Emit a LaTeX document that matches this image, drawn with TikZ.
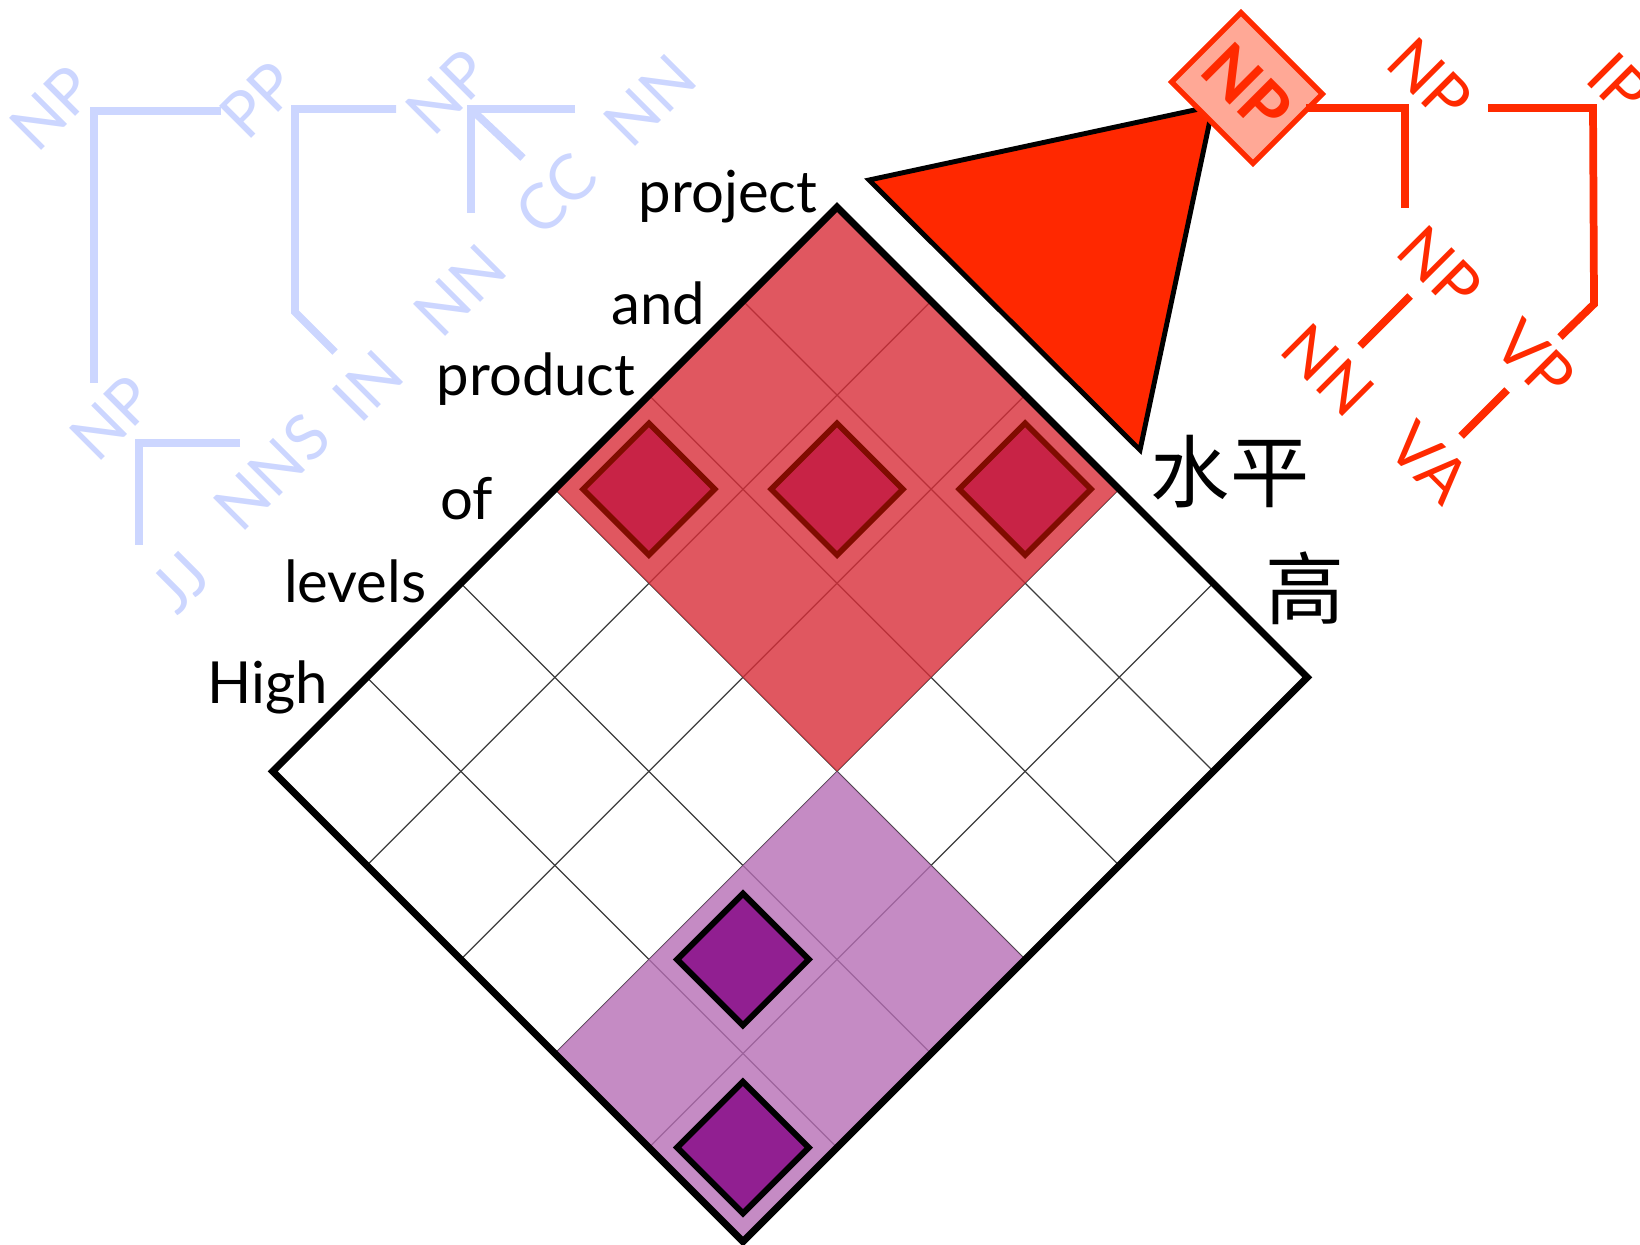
\documentclass[tikz,border=0pt]{standalone}
\usepackage{fontspec}
\setmainfont{Lato}
\newfontfamily\cjk{Noto Sans CJK SC}
\definecolor{treeblue}{RGB}{204,214,255}
\definecolor{treered}{RGB}{255,42,0}
\definecolor{boxfill}{RGB}{255,168,150}
\definecolor{redregion}{RGB}{216,45,56}
\definecolor{purpregion}{RGB}{182,110,181}
\definecolor{reddia}{RGB}{200,35,70}
\definecolor{reddiaedge}{RGB}{128,12,0}
\definecolor{purpdia}{RGB}{145,31,145}
\definecolor{gridgray}{RGB}{60,60,60}
\definecolor{trifill}{RGB}{255,40,0}
\tikzset{
  word/.style={font=\fontsize{16.5}{18}\selectfont, inner sep=0pt, anchor=base east},
  zh/.style={font=\cjk\fontsize{22.5}{26}\selectfont, inner sep=0pt},
  btag/.style={font=\fontsize{18}{20}\selectfont, text=treeblue, rotate=45, inner sep=0pt},
  rtag/.style={font=\fontsize{18}{20}\selectfont, text=treered, rotate=-45, inner sep=0pt},
  bline/.style={draw=treeblue, line width=2.2pt, line join=miter},
  rline/.style={draw=treered, line width=2.2pt, line join=miter},
  gridln/.style={draw=gridgray, line width=0.35pt},
  border/.style={draw=black, line width=2pt, line join=miter},
  reddiamond/.style={fill=reddia, draw=reddiaedge, line width=1.6pt, line join=miter},
  purpdiamond/.style={fill=purpdia, draw=black, line width=1.7pt, line join=miter},
}
\begin{document}
\begin{tikzpicture}[x=0.01cm,y=-0.01cm]
\useasboundingbox (0,0) rectangle (1640,1244);

% ---------- blue tree ----------
\node[btag] (bNPa) at (52,108) {NP};
\node[btag] (bPP) at (258,100) {PP};
\node[btag] (bNPb) at (448,92) {NP};
\node[btag] (bNNa) at (650,100) {NN};
\node[btag] (bCC) at (556,194) {CC};
\node[btag] (bNNb) at (460,290) {NN};
\node[btag] (bIN) at (368,386) {IN};
\node[btag] (bNPc) at (112,418) {NP};
\node[btag] (bNNS) at (272,472) {NNS};
\node[btag] (bJJ) at (180,582) {JJ};

\coordinate (b1a) at (221,111);
\coordinate (b1b) at (94,111);
\coordinate (b1c) at (94,383);
\draw[bline] (b1a) -- (b1b) -- (b1c);
\coordinate (b2a) at (396,109);
\coordinate (b2b) at (295,109);
\coordinate (b2c) at (295,312);
\coordinate (b2d) at (335,352);
\draw[bline] (b2a) -- (b2b) -- (b2c) -- (b2d);
\coordinate (b3a) at (575,109);
\coordinate (b3b) at (471,109);
\coordinate (b3c) at (471,213);
\coordinate (b3d) at (523,158);
\draw[bline] (b3a) -- (b3b) -- (b3c);
\draw[bline] (b3b) -- (b3d);
\coordinate (b4a) at (240,443);
\coordinate (b4b) at (139,443);
\coordinate (b4c) at (139,545);
\draw[bline] (b4a) -- (b4b) -- (b4c);

% ---------- chart grid ----------
\begin{scope}[shift={(837,207)}, x={(0.94cm,-0.94cm)}, y={(-0.94cm,-0.94cm)}]
  \foreach \k in {1,...,4} \draw[gridln] (\k,0) -- (\k,6);
  \foreach \k in {1,...,5} \draw[gridln] (0,\k) -- (5,\k);
  \fill[redregion, fill opacity=0.8] (0,0) -- (3,0) -- (3,3) -- (0,3) -- cycle;
  \fill[purpregion, fill opacity=0.8] (3,3) -- (5,3) -- (5,6) -- (3,6) -- cycle;
  \draw[border] (0,0) -- (5,0) -- (5,6) -- (0,6) -- cycle;
  \foreach \a/\b in {0/2,1/1,2/0}
    \filldraw[reddiamond] (\a+0.15,\b+0.15) -- (\a+0.85,\b+0.15) -- (\a+0.85,\b+0.85) -- (\a+0.15,\b+0.85) -- cycle;
  \foreach \a/\b in {3/4,4/5}
    \filldraw[purpdiamond] (\a+0.15,\b+0.15) -- (\a+0.85,\b+0.15) -- (\a+0.85,\b+0.85) -- (\a+0.15,\b+0.85) -- cycle;
\end{scope}

% ---------- words ----------
\node[word] (w6) at (818,212) {project};
\node[word] (w5) at (706,324) {and};
\node[word] (w4) at (636,395) {product};
\node[word] (w3) at (494,519) {of};
\node[word] (w2) at (427,602) {levels};
\node[word] (w1) at (329,703) {High};
\node[zh] (z1) at (1230,472) {水平};
\node[zh] (z2) at (1305,588) {高};

% ---------- triangle ----------
\filldraw[fill=trifill, draw=black, line width=1.4pt, line join=miter]
  (869,180) -- (1213,106) -- (1140,450) -- cycle;

% ---------- red tree ----------
\node[rtag] (rNPa) at (1430,80) {NP};
\node[rtag] (rIP) at (1619,84) {IP};
\node[rtag] (rNPb) at (1440,268) {NP};
\node[rtag] (rNN) at (1328,370) {NN};
\node[rtag] (rVP) at (1535,360) {VP};
\node[rtag] (rVA) at (1430,463) {VA};

\node[draw=treered, line width=1.5pt, fill=boxfill, rotate=-45,
      minimum width=1.15cm, minimum height=0.98cm, inner sep=0pt,
      text=treered, font=\bfseries\fontsize{19}{21}\selectfont] (rbox) at (1247,88) {NP};

\coordinate (r1a) at (1306,108);
\coordinate (r1b) at (1405,108);
\coordinate (r1c) at (1405,208);
\draw[rline] (r1a) -- (r1b) -- (r1c);
\coordinate (r2a) at (1488,108);
\coordinate (r2b) at (1593,108);
\coordinate (r2c) at (1594,304);
\coordinate (r2d) at (1560,337);
\draw[rline] (r2a) -- (r2b) -- (r2c) -- (r2d);
\coordinate (r3a) at (1410,296);
\coordinate (r3b) at (1360,346);
\draw[rline] (r3a) -- (r3b);
\coordinate (r4a) at (1507,390);
\coordinate (r4b) at (1461,436);
\draw[rline] (r4a) -- (r4b);
\end{tikzpicture}
\end{document}
